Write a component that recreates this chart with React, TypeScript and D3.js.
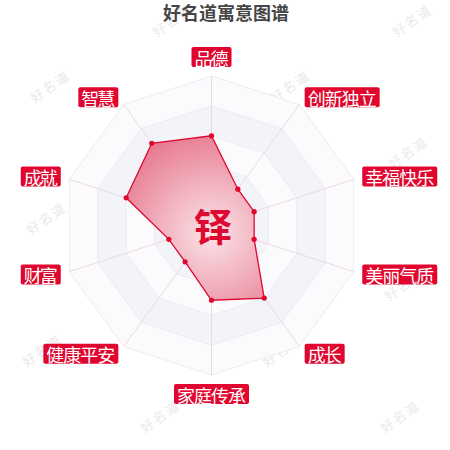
import React, { useEffect, useRef } from 'react';
import * as d3 from 'd3';

const title = '好名道寓意图谱';
const centerChar = '铎';
const indicators = ['品德', '创新独立', '幸福快乐', '美丽气质', '成长', '家庭传承', '健康平安', '财富', '成就', '智慧'];
const values = [60, 30, 30, 30, 60, 50, 30, 30, 60, 68];
const maxValue = 100;
const splitNumber = 5;

const RED = '#e0062e';
const FONT = '"Noto Sans CJK SC", "Noto Sans", sans-serif';

const App: React.FC = () => {
    const svgRef = useRef<SVGSVGElement | null>(null);

    useEffect(() => {
        if (!svgRef.current) return;
        const width = 450;
        const height = 450;
        const cx = 211.5;
        const cy = 225.5;
        const R = 149.5;

        const svg = d3.select(svgRef.current);
        svg.selectAll('*').remove();
        svg.attr('width', width).attr('height', height);

        const n = indicators.length;
        const angle = d3.scaleLinear().domain([0, n]).range([0, 2 * Math.PI]);
        const r = d3.scaleLinear().domain([0, maxValue]).range([0, R]);
        const pt = (i: number, rad: number): [number, number] => [
            cx + rad * Math.sin(angle(i)),
            cy - rad * Math.cos(angle(i)),
        ];

        const defs = svg.append('defs');
        const grad = defs.append('radialGradient')
            .attr('id', 'areaGrad')
            .attr('gradientUnits', 'userSpaceOnUse')
            .attr('cx', cx).attr('cy', cy + 8).attr('r', 105);
        grad.append('stop').attr('offset', '0').attr('stop-color', '#fbe3e8');
        grad.append('stop').attr('offset', '0.45').attr('stop-color', '#f2b5c1');
        grad.append('stop').attr('offset', '1').attr('stop-color', '#e77a8f');

        // watermarks
        const wm = svg.append('g');
        for (let row = 0; row < 7; row++) {
            const y = 20 + row * 66;
            const x0 = (row % 2 === 0 ? 172 : 52) - row * 2;
            for (let k = -1; k < 3; k++) {
                const x = x0 + k * 240;
                if (x < -30 || x > 480) continue;
                wm.append('text')
                    .attr('transform', `translate(${x},${y}) rotate(-35)`)
                    .attr('text-anchor', 'middle')
                    .attr('dominant-baseline', 'central')
                    .attr('font-family', FONT)
                    .attr('font-size', 13)
                    .attr('letter-spacing', 2)
                    .attr('fill', '#ebe9eb')
                    .text('好名道');
            }
        }

        // split areas
        const ringPath = (rad: number) => d3.line()(d3.range(n).map((i) => pt(i, rad))) + 'Z';
        const levels = d3.range(splitNumber, 0, -1);
        svg.append('g')
            .selectAll('path')
            .data(levels)
            .enter()
            .append('path')
            .attr('d', (l) => ringPath((R * l) / splitNumber))
            .attr('fill', (l) => (l % 2 === 0 ? '#f3f4f9' : '#fbfbfd'))
            .attr('stroke', '#ececf2')
            .attr('stroke-width', 1);

        // axis lines
        svg.append('g')
            .selectAll('line')
            .data(indicators)
            .enter()
            .append('line')
            .attr('x1', cx).attr('y1', cy)
            .attr('x2', (_, i) => pt(i, R)[0])
            .attr('y2', (_, i) => pt(i, R)[1])
            .attr('stroke', '#f0d8de')
            .attr('stroke-width', 1);

        // data area
        const pts = values.map((v, i) => pt(i, r(v)));
        svg.append('path')
            .attr('d', d3.line()(pts) + 'Z')
            .attr('fill', 'url(#areaGrad)')
            .attr('stroke', RED)
            .attr('stroke-width', 1.3);

        svg.append('g')
            .selectAll('circle')
            .data(pts)
            .enter()
            .append('circle')
            .attr('cx', (d) => d[0])
            .attr('cy', (d) => d[1])
            .attr('r', 2.6)
            .attr('fill', RED);

        // indicator labels
        const fontSize = 18;
        const charW = 17.5;
        const padX = 2.5;
        const boxH = 20;
        const gap = 9;
        const lab = svg.append('g');
        indicators.forEach((name, i) => {
            const [ax, ay] = pt(i, R + gap);
            const s = Math.sin(angle(i));
            const c = Math.cos(angle(i));
            const w = name.length * charW + padX * 2;
            let x = ax - w / 2;
            if (s > 0.01) x = ax;
            else if (s < -0.01) x = ax - w;
            let y = ay - boxH / 2;
            if (Math.abs(s) < 0.01) y = c > 0 ? ay - boxH : ay;
            lab.append('rect')
                .attr('x', x).attr('y', y)
                .attr('width', w).attr('height', boxH)
                .attr('rx', 2)
                .attr('fill', RED);
            lab.append('text')
                .attr('x', x + w / 2)
                .attr('y', y + boxH / 2 + 0.5)
                .attr('text-anchor', 'middle')
                .attr('dominant-baseline', 'central')
                .attr('font-family', FONT)
                .attr('font-size', fontSize)
                .attr('textLength', name.length * charW - 1)
                .attr('fill', '#fff')
                .text(name);
        });

        // center character
        svg.append('text')
            .attr('x', 213)
            .attr('y', cy - 1)
            .attr('text-anchor', 'middle')
            .attr('dominant-baseline', 'central')
            .attr('font-family', FONT)
            .attr('font-size', 38)
            .attr('font-weight', 'bold')
            .attr('fill', '#dc0a30')
            .text(centerChar);

        // title
        svg.append('text')
            .attr('x', 226)
            .attr('y', 12)
            .attr('text-anchor', 'middle')
            .attr('dominant-baseline', 'central')
            .attr('font-family', FONT)
            .attr('font-size', 18)
            .attr('font-weight', 'bold')
            .attr('fill', '#464646')
            .text(title);
    }, []);

    return (
        <svg
            ref={svgRef}
            style={{ position: 'absolute', left: 0, top: 0, display: 'block', background: '#fff' }}
        ></svg>
    );
};

export default App;
